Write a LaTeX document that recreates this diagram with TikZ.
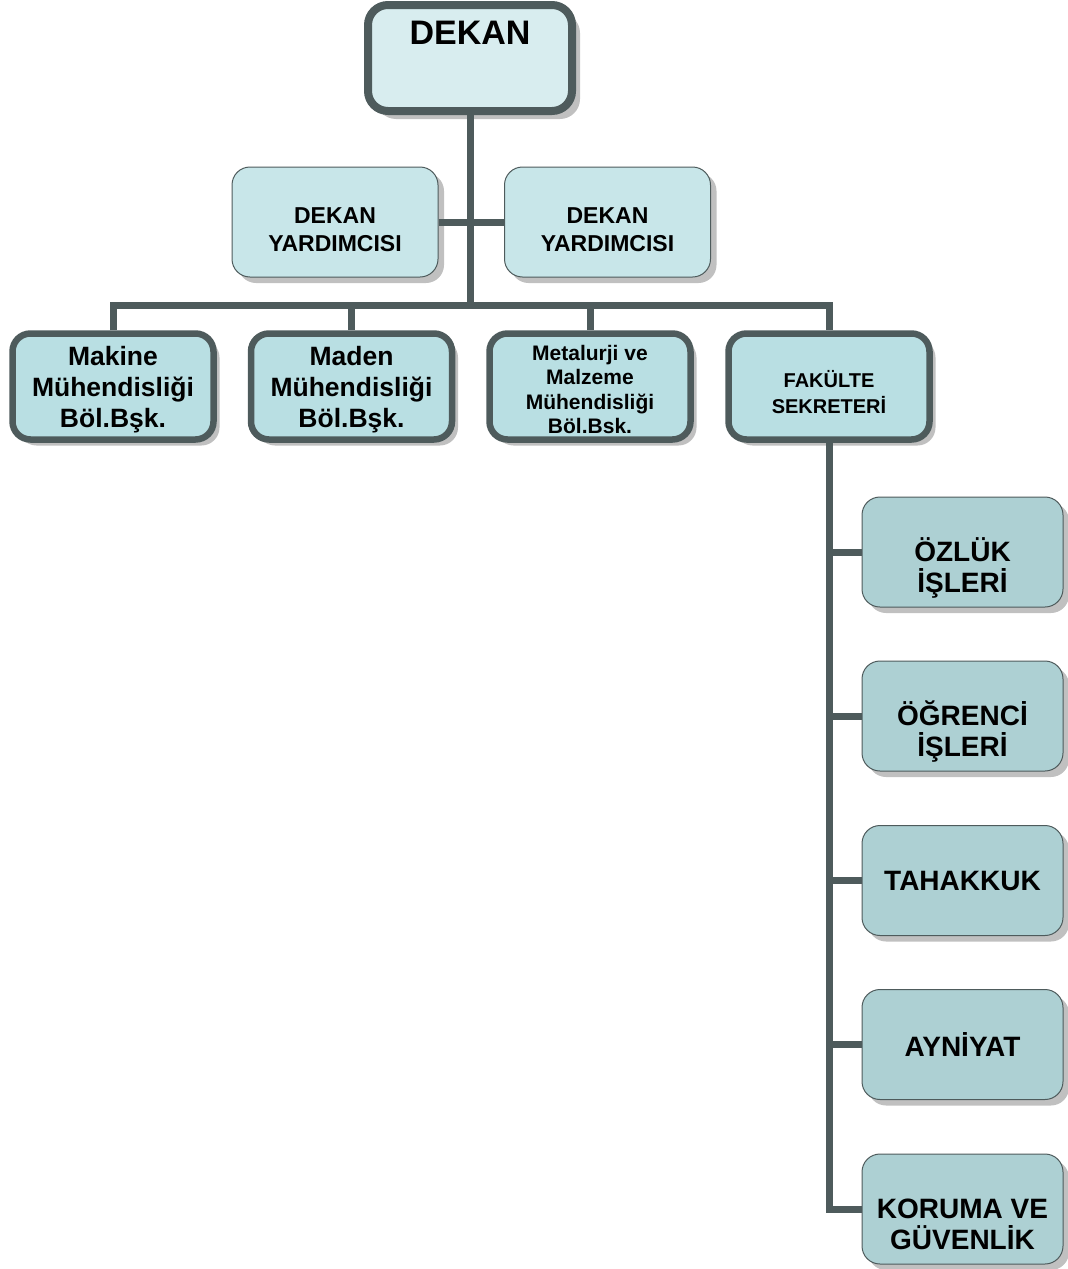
\documentclass[tikz,border=0pt]{standalone}
\usepackage{fontspec}
\setmainfont{Liberation Sans}
\usetikzlibrary{shadows}
\definecolor{linec}{HTML}{4E5B5C}
\definecolor{fillA}{HTML}{D8EDEF}
\definecolor{fillB}{HTML}{C8E6E9}
\definecolor{fillC}{HTML}{B9DFE3}
\definecolor{fillD}{HTML}{ADD0D3}
\definecolor{shadowc}{HTML}{C0C0C0}
\begin{document}
\begin{tikzpicture}[x=1pt,y=-1pt,
 box/.style={draw=linec, rounded corners=18pt, minimum width=201pt, minimum height=106pt, inner sep=0pt,
   drop shadow={shadow xshift=6pt, shadow yshift=-6pt, fill=shadowc, opacity=1}},
 thickbox/.style={box, line width=6.5pt, fill=fillC},
 thinbox/.style={box, line width=1pt, minimum height=110pt},
 conn/.style={draw=linec, line width=7pt},
 lbl/.style={align=center, inner sep=0pt}
]
\useasboundingbox (0,0) rectangle (1068,1269);
% top
\node[box, line width=8pt, fill=fillA, minimum width=204pt, rounded corners=20pt,
  drop shadow={shadow xshift=8pt, shadow yshift=-8pt, fill=shadowc, opacity=1},
  label={[lbl,font=\bfseries\fontsize{34}{40}\selectfont,yshift=25pt]center:DEKAN}] (dekan) at (470,58) {};
% deputies
\node[thinbox, fill=fillB, minimum width=206pt,
  label={[lbl,font=\bfseries\fontsize{23}{28}\selectfont,yshift=-7.5pt]center:{DEKAN\\YARDIMCISI}}] (dy1) at (335,222) {};
\node[thinbox, fill=fillB, minimum width=206pt,
  label={[lbl,font=\bfseries\fontsize{23}{28}\selectfont,yshift=-7.5pt]center:{DEKAN\\YARDIMCISI}}] (dy2) at (607.5,222) {};
% departments
\node[thickbox,
  label={[lbl,font=\bfseries\fontsize{26.5}{31}\selectfont,yshift=-3pt]center:{Makine\\Mühendisliği\\Böl.Bşk.}}] (b1) at (113,386.5) {};
\node[thickbox,
  label={[lbl,font=\bfseries\fontsize{26.5}{31}\selectfont,yshift=-3pt]center:{Maden\\Mühendisliği\\Böl.Bşk.}}] (b2) at (351.5,386.5) {};
\node[thickbox,
  label={[lbl,font=\bfseries\fontsize{21}{24.5}\selectfont,yshift=-3pt]center:{Metalurji ve\\Malzeme\\Mühendisliği\\Böl.Bsk.}}] (b3) at (590,386.5) {};
\node[thickbox,
  label={[lbl,font=\bfseries\fontsize{20}{26}\selectfont,yshift=-6pt]center:{FAKÜLTE\\SEKRETERİ}}] (b4) at (829,386.5) {};
% units
\node[thinbox, fill=fillD,
  label={[lbl,font=\bfseries\fontsize{28}{31}\selectfont,yshift=-16pt]center:{ÖZLÜK\\İŞLERİ}}] (r1) at (962.5,552) {};
\node[thinbox, fill=fillD,
  label={[lbl,font=\bfseries\fontsize{28}{31}\selectfont,yshift=-16pt]center:{ÖĞRENCİ\\İŞLERİ}}] (r2) at (962.5,716) {};
\node[thinbox, fill=fillD,
  label={[lbl,font=\bfseries\fontsize{28}{31}\selectfont]center:TAHAKKUK}] (r3) at (962.5,880.5) {};
\node[thinbox, fill=fillD,
  label={[lbl,font=\bfseries\fontsize{28}{31}\selectfont]center:AYNİYAT}] (r4) at (962.5,1044.5) {};
\node[thinbox, fill=fillD,
  label={[lbl,font=\bfseries\fontsize{28}{31}\selectfont,yshift=-15pt]center:{KORUMA VE\\GÜVENLİK}}] (r5) at (962.5,1209) {};
% connectors
\coordinate (bus) at (470,305);
\draw[conn] (dekan.south) -- (bus);
\draw[conn] (dy1.east) -- (dy2.west);
\draw[conn] (b1.north) |- (bus) -| (b4.north);
\draw[conn] (b2.north) -- (b2.north |- bus);
\draw[conn] (b3.north) -- (b3.north |- bus);
\draw[conn] (b4.south) |- (r5.west);
\foreach \r in {r1,r2,r3,r4}{
  \draw[conn] (b4.south |- \r.west) -- (\r.west);
}
\end{tikzpicture}
\end{document}
